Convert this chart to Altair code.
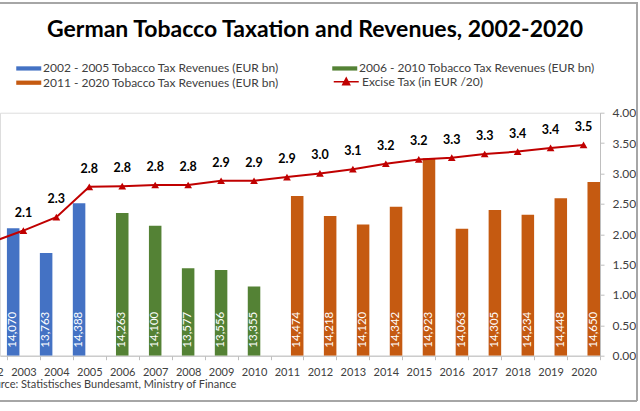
import altair as alt
import pandas as pd

P1 = "2002 - 2005 Tobacco Tax Revenues (EUR bn)"
P2 = "2006 - 2010 Tobacco Tax Revenues (EUR bn)"
P3 = "2011 - 2020 Tobacco Tax Revenues (EUR bn)"
LINE_NAME = "Excise Tax (in EUR /20)"

bar_years = list(range(2003, 2021))
bar_heights = [2.10, 1.69, 2.51, 2.35, 2.14, 1.44, 1.41, 1.14, 2.63, 2.30,
               2.16, 2.45, 3.25, 2.09, 2.40, 2.32, 2.59, 2.86]
bar_labels = ["14,070", "13,763", "14,388", "14,263", "14,100", "13,577",
              "13,556", "13,355", "14,474", "14,218", "14,120", "14,342",
              "14,923", "14,063", "14,305", "14,234", "14,448", "14,650"]

line_years = list(range(2002, 2021))
excise = [1.86, 2.06, 2.28, 2.78, 2.79, 2.81, 2.81, 2.88, 2.88, 2.94, 3.00,
          3.07, 3.16, 3.23, 3.26, 3.32, 3.36, 3.42, 3.47]

y_ticks = [0, 0.5, 1, 1.5, 2, 2.5, 3, 3.5, 4]

periods = [P1 if y <= 2005 else (P2 if y <= 2010 else P3) for y in bar_years]
bars_df = pd.DataFrame({"year": bar_years, "h": bar_heights,
                        "lab": bar_labels, "period": periods})
line_df = pd.DataFrame({"year": line_years, "excise": excise,
                        "series": [LINE_NAME] * len(line_years)})

FONT = "Lato"
GRAY = "#404040"
AX = "#BFBFBF"

xscale = alt.Scale(domain=[2002.29, 2020.5], nice=False, zero=False)
yscale = alt.Scale(domain=[0, 4], nice=False)

# ticks sit on the category boundaries; labels are shifted back to the centres
boundaries = [y + 0.5 for y in line_years]

x_axis = alt.Axis(values=boundaries, labelExpr="format(datum.value - 0.5, 'd')",
                  labelOffset=-16.47, labelFlush=False, labelOverlap=False,
                  labelBound=False,
                  domainColor=AX, tickColor=AX, tickSize=4, labelPadding=7,
                  labelFont=FONT, labelFontSize=11, labelColor=GRAY,
                  grid=False,
                  title="Source: Statistisches Bundesamt, Ministry of Finance",
                  titleX=-18, titleY=29, titleAlign="left",
                  titleBaseline="middle", titleFont=FONT, titleFontSize=11,
                  titleFontWeight="normal", titleColor=GRAY)
y_axis = alt.Axis(orient="right", values=y_ticks, format=".2f", tickSize=4,
                  labelPadding=8, domainColor=AX, tickColor=AX,
                  labelFont=FONT, labelFontSize=12, labelColor=GRAY,
                  grid=False, title=None)

# wide legend swatches: path extends beyond the unit box
bar_sym = "M-1,-0.34L3,-0.34L3,0.34L-1,0.34Z"
line_sym = "M-1,0L3,0M0.45,0.48L1,-0.56L1.55,0.48Z"

bar_base = alt.Chart(bars_df).transform_calculate(
    slot=f"indexof(['{P1}','{P2}','{P3}'], datum.period)"
).transform_calculate(
    x0="datum.year - 0.5 + datum.slot * 0.31",
).transform_calculate(
    x1="datum.x0 + 0.38", xc="datum.x0 + 0.19", base="0"
)

bars = bar_base.mark_bar(clip=True).encode(
    x=alt.X("x0:Q", scale=xscale, axis=x_axis),
    x2="x1:Q",
    y=alt.Y("h:Q", scale=yscale, axis=y_axis),
    y2="base:Q",
    color=alt.Color("period:N",
                    scale=alt.Scale(domain=[P1, P2, P3],
                                    range=["#4472C4", "#548235", "#C55A11"]),
                    legend=alt.Legend(title=None, orient="none", legendX=16,
                                      legendY=-51, columns=2,
                                      direction="horizontal",
                                      symbolType=bar_sym, symbolSize=156.25,
                                      symbolStrokeWidth=0, labelFont=FONT,
                                      labelFontSize=12, labelColor=GRAY,
                                      labelOffset=14, columnPadding=53,
                                      rowPadding=1.5, labelLimit=400)),
)

bar_text = bar_base.mark_text(angle=270, align="left", baseline="middle",
                              dx=8, color="white", font=FONT, fontSize=11.5,
                              clip=True).encode(
    x=alt.X("xc:Q", scale=xscale, axis=x_axis),
    y=alt.Y("base:Q", scale=yscale, axis=y_axis),
    text="lab:N",
)

line = alt.Chart(line_df).mark_line(color="#C00000", strokeWidth=2).encode(
    x=alt.X("year:Q", scale=xscale, axis=x_axis),
    y=alt.Y("excise:Q", scale=yscale, axis=y_axis),
    color=alt.Color("series:N",
                    scale=alt.Scale(domain=[LINE_NAME], range=["#C00000"]),
                    legend=alt.Legend(title=None, orient="none", legendX=333,
                                      legendY=-38, symbolType=line_sym,
                                      symbolSize=156.25,
                                      symbolFillColor="#C00000",
                                      symbolStrokeColor="#C00000",
                                      symbolStrokeWidth=1.5, labelFont=FONT,
                                      labelFontSize=12, labelColor=GRAY,
                                      labelOffset=15)),
)

points = alt.Chart(line_df).mark_point(shape="triangle-up", filled=True,
                                       size=60, color="#C00000",
                                       opacity=1).encode(
    x=alt.X("year:Q", scale=xscale, axis=x_axis),
    y=alt.Y("excise:Q", scale=yscale, axis=y_axis),
)

line_text = alt.Chart(line_df).transform_filter("datum.year >= 2003").mark_text(
    dy=-18, font=FONT, fontSize=12.5, fontWeight="bold", color="black"
).encode(
    x=alt.X("year:Q", scale=xscale, axis=x_axis),
    y=alt.Y("excise:Q", scale=yscale, axis=y_axis),
    text=alt.Text("excise:Q", format=".1f"),
)

frame_top = alt.Chart(line_df).mark_rule(color="#A6A6A6", strokeWidth=1.5).encode(
    x=alt.value(-5), x2=alt.value(637), y=alt.value(-110))
frame_right = alt.Chart(line_df).mark_rule(color="#A6A6A6", strokeWidth=1.5).encode(
    x=alt.value(637), y=alt.value(-110), y2=alt.value(288))
frame_bottom = alt.Chart(line_df).mark_rule(color="#A6A6A6", strokeWidth=1.5).encode(
    x=alt.value(-5), x2=alt.value(637), y=alt.value(288))

chart = alt.layer(
    bars, bar_text, line, points, line_text, frame_top, frame_right, frame_bottom
).resolve_scale(color="independent").properties(
    width=600, height=243,
    title=alt.TitleParams("German Tobacco Taxation and Revenues, 2002-2020",
                          font=FONT, fontSize=23, fontWeight="bold",
                          color="black", anchor="middle", dx=15, dy=44),
    autosize=alt.AutoSizeParams(type="none"),
    padding={"left": 0, "top": 112.7, "right": 40, "bottom": 55.3},
).configure_view(strokeWidth=0).configure(background="white")

chart.save("out.html", embed_options={"renderer": "svg", "actions": False})
